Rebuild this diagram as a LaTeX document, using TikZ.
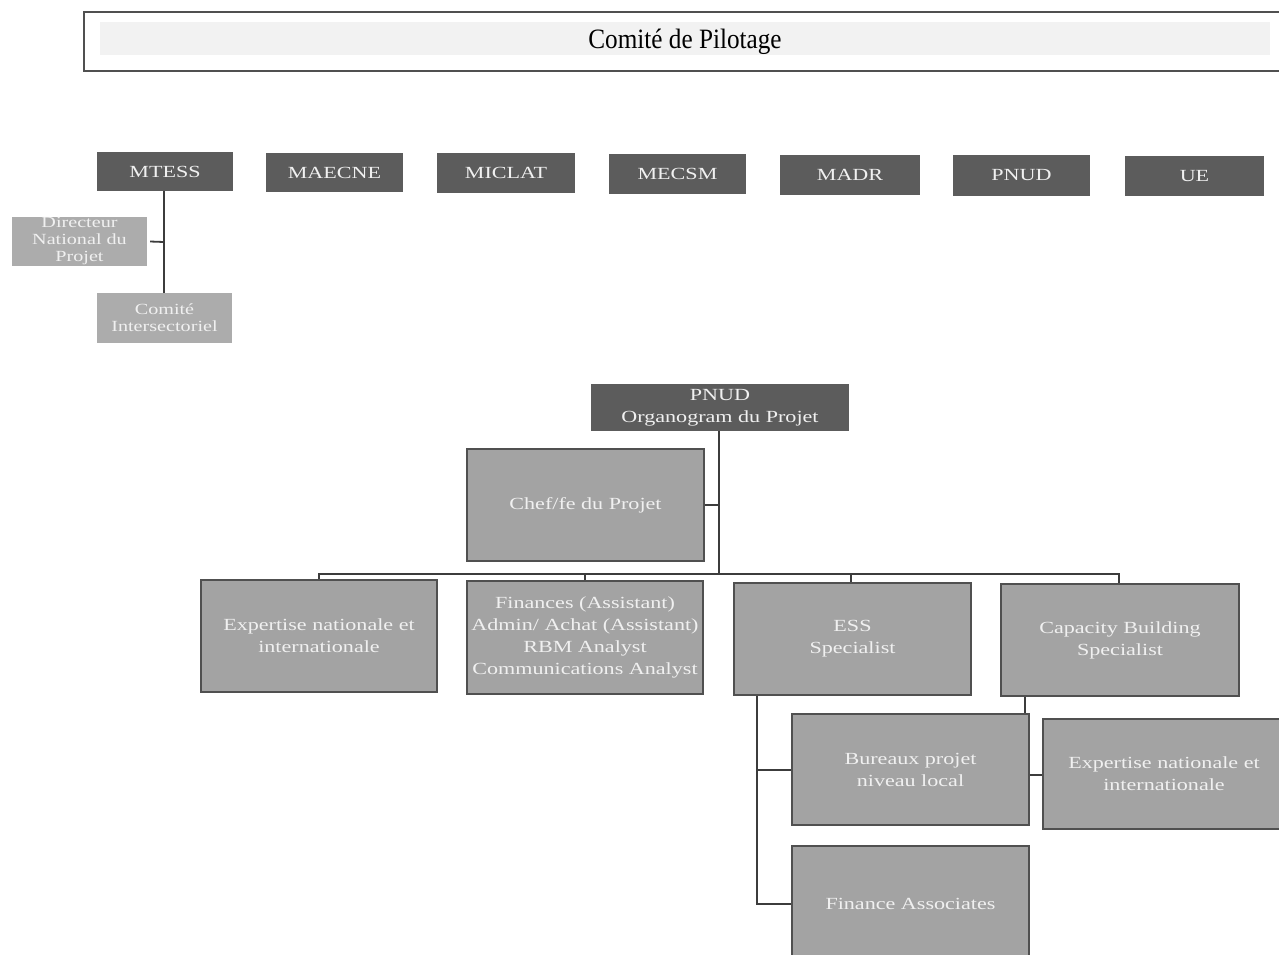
\documentclass[tikz,border=0pt]{standalone}
\usepackage{fontspec}
\setmainfont{Liberation Serif}
\newfontfamily\widefont[FakeStretch=1.3]{Liberation Serif}
\newfontfamily\narrowfont[FakeStretch=0.9]{Liberation Serif}
\definecolor{darkbox}{RGB}{92,92,92}
\definecolor{lightbox}{RGB}{172,172,172}
\definecolor{midbox}{RGB}{163,163,163}
\definecolor{boxline}{RGB}{80,80,80}
\definecolor{txt}{RGB}{240,240,240}
\definecolor{conn}{RGB}{60,60,60}
\tikzset{
  topbox/.style={fill=darkbox, draw=none, text=txt, font=\widefont\fontsize{17}{22}\selectfont, inner sep=0pt, align=center},
  litebox/.style={fill=lightbox, draw=none, text=txt, font=\widefont\fontsize{15.5}{17}\selectfont, inner sep=0pt, align=center},
  orgbox/.style={fill=midbox, draw=boxline, line width=1.6pt, text=txt, font=\widefont\fontsize{17}{22}\selectfont, inner sep=0pt, align=center},
  conline/.style={draw=conn, line width=1.8pt},
}
\newcommand{\boxat}[6]{%
  \node[#1, minimum width={#5-#3}, minimum height={#6-#4}] (#2) at ({(#3+#5)/2},{(#4+#6)/2})}
\begin{document}
\begin{tikzpicture}[x=1pt,y=-1pt]
\useasboundingbox (0,0) rectangle (1279,954);
% Comite de pilotage
\node[draw=boxline, line width=1.5pt, minimum width=1200pt, minimum height=59pt, inner sep=0pt] (cp) at (684,41.5) {};
\fill[gray!10] (100,22) rectangle (1270,55);
\node[font=\narrowfont\fontsize{28}{28}\selectfont, text=black] (cpt) at (685,42) {Comité de Pilotage};
% top row
\boxat{topbox}{mtess}{97}{152}{233}{191} {MTESS};
\boxat{topbox}{maecne}{266}{153}{403}{192} {MAECNE};
\boxat{topbox}{miclat}{437}{153}{575}{193} {MICLAT};
\boxat{topbox}{mecsm}{609}{154}{746}{194} {MECSM};
\boxat{topbox}{madr}{780}{155}{920}{195} {MADR};
\boxat{topbox}{pnud}{953}{155}{1090}{196} {PNUD};
\boxat{topbox}{ue}{1125}{156}{1264}{196} {UE};
% MTESS sub
\boxat{litebox}{dir}{12}{217}{147}{266} {Directeur\\National du\\Projet};
\boxat{litebox}{ci}{97}{293}{232}{343} {Comité\\Intersectoriel};
\coordinate (m1) at (164,242);
\draw[conline] (mtess.south -| m1) -- (ci.north -| m1);
\draw[conline] (dir.east) ++(3,0) -- (m1);
% organogram
\boxat{topbox}{org}{591}{384}{849}{431} {PNUD\\Organogram du Projet};
\boxat{orgbox}{chef}{467}{449}{704}{561} {Chef/fe du Projet};
\coordinate (bus) at (719,574);
\draw[conline] (org.south -| bus) -- (bus);
\draw[conline] (chef.east) -- (chef.east -| bus);
\boxat{orgbox}{exp1}{201}{580}{437}{692} {Expertise nationale et\\internationale};
\boxat{orgbox}{fin}{467}{581}{703}{694} {Finances (Assistant)\\Admin/ Achat (Assistant)\\RBM Analyst\\Communications Analyst};
\boxat{orgbox}{ess}{734}{583}{971}{695} {ESS\\Specialist};
\boxat{orgbox}{cap}{1001}{584}{1239}{696} {Capacity Building\\Specialist};
\draw[conline] (exp1.north -| 319,0) |- (bus) -| (cap.north -| 1119,0);
\draw[conline] (fin.north -| 585,0) -- (585,574);
\draw[conline] (ess.north -| 851,0) -- (851,574);
% lower
\boxat{orgbox}{bur}{792}{714}{1029}{825} {Bureaux projet\\niveau local};
\boxat{orgbox}{fa}{792}{846}{1029}{962} {Finance Associates};
\boxat{orgbox}{exp2}{1043}{719}{1285}{829} {Expertise nationale et\\internationale};
\draw[conline] (ess.south -| 757,0) |- (fa.west);
\draw[conline] (757,770) -- (bur.west |- 757,770);
\draw[conline] (cap.south -| 1025,0) -- (bur.north -| 1025,0);
\draw[conline] (bur.east |- 0,775) -- (exp2.west |- 0,775);
\end{tikzpicture}
\end{document}
